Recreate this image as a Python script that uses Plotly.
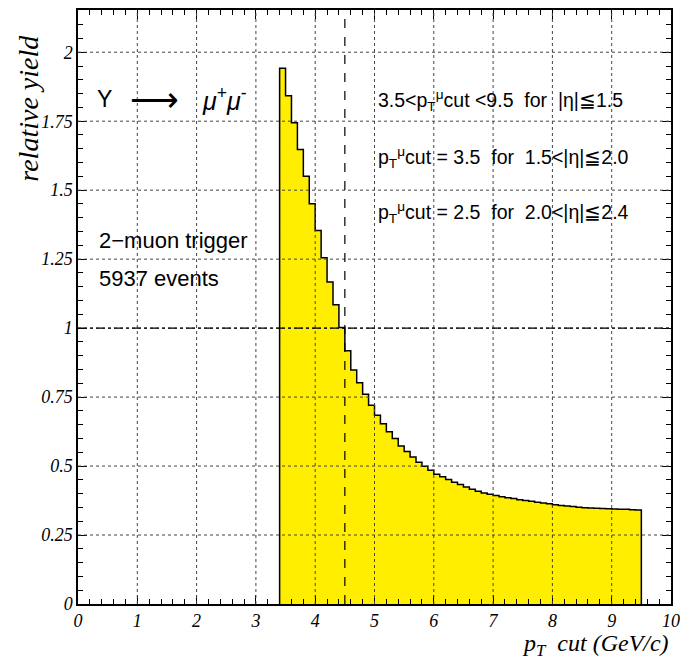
import plotly.graph_objects as go

# ---- data ----
bin_start = 3.4
bin_width = 0.1
rel_yield = [
    1.942, 1.842, 1.744, 1.647, 1.550, 1.451, 1.354, 1.255, 1.167, 1.085, 1.002,
    0.918, 0.848, 0.802, 0.760, 0.720, 0.684, 0.653, 0.624, 0.600, 0.573,
    0.553, 0.533, 0.514, 0.499, 0.485, 0.470, 0.461, 0.451, 0.441, 0.433,
    0.424, 0.416, 0.409, 0.402, 0.398, 0.393, 0.389, 0.385, 0.382, 0.378,
    0.375, 0.372, 0.369, 0.366, 0.363, 0.360, 0.357, 0.355, 0.353, 0.351,
    0.349, 0.348, 0.347, 0.346, 0.345, 0.344, 0.343, 0.343, 0.342, 0.341,
]
x_ticks = [0, 1, 2, 3, 4, 5, 6, 7, 8, 9, 10]
x_tick_labels = ["0", "1", "2", "3", "4", "5", "6", "7", "8", "9", "10"]
y_ticks = [0, 0.25, 0.5, 0.75, 1.0, 1.25, 1.5, 1.75, 2.0]
y_tick_labels = ["0", "0.25", "0.5", "0.75", "1", "1.25", "1.5", "1.75", "2"]
x_range = [0, 10]
y_range = [0, 2.153]
pt_cut_line = 4.5
reference_level = 1.0

# ---- build step outline from bins ----
n = len(rel_yield)
edges = [round(bin_start + i * bin_width, 4) for i in range(n + 1)]
xs = [edges[0]] + edges[:-1] + [edges[-1], edges[-1]]
ys = [0] + rel_yield + [rel_yield[-1], 0]

fig = go.Figure()
fig.add_trace(go.Scatter(
    x=xs, y=ys, mode="lines", line=dict(shape="hv", color="black", width=1.5),
    fill="tozeroy", fillcolor="#FFEE00", hoverinfo="skip", showlegend=False,
))

shapes = []
# grid lines above the fill
for xv in x_ticks[1:-1]:
    shapes.append(dict(type="line", xref="x", yref="paper", x0=xv, x1=xv, y0=0, y1=1,
                       line=dict(color="#444", width=1, dash="dot"), layer="above"))
for yv in y_ticks[1:]:
    shapes.append(dict(type="line", xref="paper", yref="y", x0=0, x1=1, y0=yv, y1=yv,
                       line=dict(color="#444", width=1, dash="dot"), layer="above"))
shapes.append(dict(type="line", xref="x", yref="paper", x0=pt_cut_line, x1=pt_cut_line, y0=0, y1=1,
                   line=dict(color="black", width=1.2, dash="dash"), layer="above"))
shapes.append(dict(type="line", xref="paper", yref="y", x0=0, x1=1, y0=reference_level, y1=reference_level,
                   line=dict(color="black", width=1.2, dash="dashdot"), layer="above"))

sans = "Liberation Sans"
serif = "Liberation Serif"


def ann(x, y, text, size, family=sans, **kw):
    d = dict(x=x, y=y, xref="x", yref="y", xanchor="left", yanchor="middle",
             text=text, font=dict(family=family, size=size, color="black"), showarrow=False)
    d.update(kw)
    return d


annotations = [
    ann(0.29, 1.83, "Υ", 23),
    ann(0.84, 1.83, "⟶", 34),
    ann(2.06, 1.83, "<i>μ</i><sup>+</sup><i>μ</i><sup>-</sup>", 25),
    ann(5.03, 1.824, "3.5&lt;p<sub>T</sub><sup>μ</sup>cut &lt;9.5 &nbsp;for &nbsp;|η|≦1.5", 19.5),
    ann(5.03, 1.617, "p<sub>T</sub><sup>μ</sup>cut = 3.5 &nbsp;for &nbsp;1.5&lt;|η|≦2.0", 19.5),
    ann(5.03, 1.418, "p<sub>T</sub><sup>μ</sup>cut = 2.5 &nbsp;for &nbsp;2.0&lt;|η|≦2.4", 19.5),
    ann(0.32, 1.316, "2−muon trigger", 22),
    ann(0.32, 1.179, "5937 events", 22),
    dict(x=-0.085, y=0.962, xref="paper", yref="paper", xanchor="center", yanchor="top",
         text="<i>relative yield</i>", textangle=-90,
         font=dict(family=serif, size=28, color="black"), showarrow=False),
    dict(x=1.0, y=-0.069, xref="paper", yref="paper", xanchor="right", yanchor="middle",
         text="<i>p<sub>T</sub> &nbsp;cut (GeV/c)</i>",
         font=dict(family=serif, size=24, color="black"), showarrow=False),
]

axis_common = dict(
    showline=True, linecolor="black", linewidth=1.5, mirror="allticks",
    ticks="inside", ticklen=9, tickwidth=1, tickcolor="black",
    showgrid=False, zeroline=False, automargin=False,
    tickfont=dict(family=serif, size=18, color="black"),
)

fig.update_layout(
    width=680, height=662,
    margin=dict(l=78, r=9, t=10, b=58),
    paper_bgcolor="white", plot_bgcolor="white",
    xaxis=dict(range=x_range, tickvals=x_ticks, ticktext=["<i>%s</i>" % t for t in x_tick_labels],
               minor=dict(dtick=0.2, ticks="inside", ticklen=5, tickcolor="black", showgrid=False),
               **axis_common),
    yaxis=dict(range=y_range, tickvals=y_ticks, ticktext=["<i>%s</i>" % t for t in y_tick_labels],
               minor=dict(dtick=0.05, ticks="inside", ticklen=5, tickcolor="black", showgrid=False),
               **axis_common),
    shapes=shapes,
    annotations=annotations,
    showlegend=False,
)

fig.write_html("out.html")
